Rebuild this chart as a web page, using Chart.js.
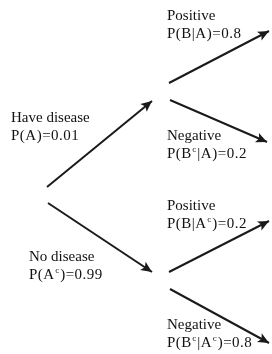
<!DOCTYPE html>
<html>
<head>
<meta charset="utf-8">
<script src="https://cdn.jsdelivr.net/npm/chart.js@4"></script>
<style>
  html, body { margin: 0; padding: 0; background: #fff; }
  #wrap { width: 272px; height: 354px; }
</style>
</head>
<body>
<div id="wrap"><canvas id="tree" width="272" height="354"></canvas></div>
<script>
// branches of the tree: start point and arrow tip (diagram units, y runs down)
const branchStartX = [47, 48, 169, 170, 169, 170];
const branchStartY = [187, 203, 83, 100, 272, 289];
const branchEndX = [152, 152, 269, 267, 269, 269];
const branchEndY = [101, 272, 31, 142, 221, 343];

// outcome and probability written next to each branch
const branchNames = ['Have disease', 'No disease', 'Positive', 'Negative', 'Positive', 'Negative'];
const branchProbs = ['P(A)=0.01', 'P(A^c)=0.99', 'P(B|A)=0.8', 'P(B^c|A)=0.2', 'P(B|A^c)=0.2', 'P(B^c|A^c)=0.8'];
// label anchors: left edge and first baseline
const labelX = [11, 29, 167, 167, 167, 167];
const labelY = [122, 261, 20, 140, 210, 329];

const FONT = '"Liberation Serif", "Times New Roman", serif';
const INK = '#1a1a1a';

// draws "P(B^c|A)" style text, ^c becomes a small raised c
function drawRich(ctx, text, x, y) {
    const parts = text.split('^c');
    parts.forEach((part, i) => {
        ctx.font = '15px ' + FONT;
        ctx.fillText(part, x, y);
        x += ctx.measureText(part).width;
        if (i < parts.length - 1) {
            ctx.font = '9px ' + FONT;
            ctx.fillText('c', x + 0.5, y - 6);
            x += ctx.measureText('c').width + 1;
        }
    });
}

const arrowHeads = {
    id: 'arrowHeads',
    afterDatasetsDraw(chart) {
        const ctx = chart.ctx;
        chart.data.datasets.forEach((ds, i) => {
            const pts = chart.getDatasetMeta(i).data;
            const a = pts[0], b = pts[1];
            const ang = Math.atan2(b.y - a.y, b.x - a.x);
            const len = 11, half = 5;
            ctx.save();
            ctx.translate(b.x, b.y);
            ctx.rotate(ang);
            ctx.beginPath();
            ctx.moveTo(0, 0);
            ctx.lineTo(-len, -half);
            ctx.lineTo(-len + 2.5, 0);
            ctx.lineTo(-len, half);
            ctx.closePath();
            ctx.fillStyle = INK;
            ctx.fill();
            ctx.restore();
        });
    }
};

const branchLabels = {
    id: 'branchLabels',
    afterDraw(chart) {
        const ctx = chart.ctx;
        const xs = chart.scales.x, ys = chart.scales.y;
        ctx.save();
        ctx.fillStyle = '#111';
        ctx.textBaseline = 'alphabetic';
        ctx.textAlign = 'left';
        branchNames.forEach((name, i) => {
            const px = xs.getPixelForValue(labelX[i]);
            const py = ys.getPixelForValue(labelY[i]);
            ctx.letterSpacing = '0px';
            ctx.font = '15px ' + FONT;
            ctx.fillText(name, px, py);
            // the probability lines are set a touch looser in the original
            ctx.letterSpacing = '0.5px';
            drawRich(ctx, branchProbs[i], px, py + 18);
        });
        ctx.restore();
    }
};

const datasets = branchNames.map((name, i) => ({
    label: name,
    data: [
        { x: branchStartX[i], y: branchStartY[i] },
        { x: branchEndX[i], y: branchEndY[i] }
    ],
    showLine: true,
    borderColor: INK,
    borderWidth: 2,
    pointRadius: 0,
    clip: false
}));

new Chart(document.getElementById('tree'), {
    type: 'scatter',
    data: { datasets: datasets },
    options: {
        responsive: false,
        animation: false,
        layout: { padding: 0 },
        scales: {
            x: { type: 'linear', min: 0, max: 272, display: false },
            y: { type: 'linear', min: 0, max: 354, reverse: true, display: false }
        },
        plugins: {
            legend: { display: false },
            tooltip: { enabled: false }
        }
    },
    plugins: [arrowHeads, branchLabels]
});
</script>
</body>
</html>
